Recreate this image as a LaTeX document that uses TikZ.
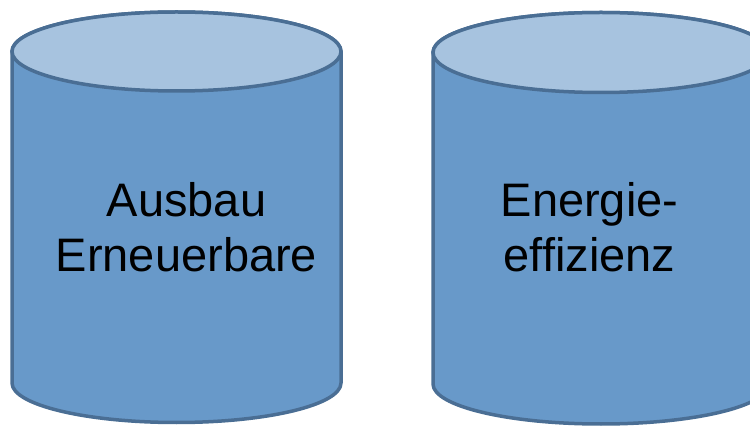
\documentclass[tikz,border=0pt]{standalone}
\usepackage{fontspec}
\setmainfont{Liberation Sans}
\definecolor{sidefill}{HTML}{6899C9}
\definecolor{topfill}{HTML}{A7C3DF}
\definecolor{rim}{HTML}{4A6E94}
\begin{document}
\begin{tikzpicture}[x=1pt,y=1pt,
  side/.style={fill=sidefill,draw=rim,line width=3.5pt,line join=round},
  lid/.style={fill=topfill,draw=rim,line width=3.5pt},
  lbl/.style={inner sep=0pt,anchor=base,font=\fontsize{47}{56}\selectfont,text=black}]
\useasboundingbox (0,0) rectangle (750,426);
\clip (0,0) rectangle (750,426);
% left cylinder: c=176.5, a=164.5, top y=374.5, bottom y=43, ry=39.5
\path[side] (12,374.5) -- (12,43) arc[start angle=180,end angle=360,x radius=164.5,y radius=39.5]
  -- (341,374.5) arc[start angle=0,end angle=180,x radius=164.5,y radius=39.5] -- cycle;
\path[lid] (176.5,374.5) ellipse[x radius=164.5,y radius=39.5];
% right cylinder: c=601, a=168, top y=373.5, bottom y=42, ry=40
\path[side] (433,373.5) -- (433,42) arc[start angle=180,end angle=360,x radius=168,y radius=40]
  -- (769,373.5) arc[start angle=0,end angle=180,x radius=168,y radius=40] -- cycle;
\path[lid] (601,373.5) ellipse[x radius=168,y radius=40];
\node[lbl] (l1a) at (186.5,209) {Ausbau};
\node[lbl] (l1b) at (186.5,154) {Erneuerbare};
\node[lbl] (l2a) at (589.5,209) {Energie-};
\node[lbl] (l2b) at (589.5,154) {effizienz};
\end{tikzpicture}
\end{document}
